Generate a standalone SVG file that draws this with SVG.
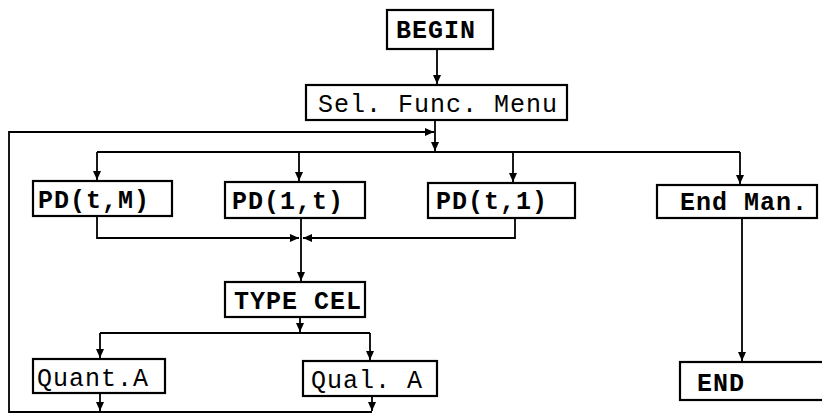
<svg xmlns="http://www.w3.org/2000/svg" width="822" height="414" viewBox="0 0 822 414">
<defs>
<marker id="ah" markerWidth="10" markerHeight="10" refX="9" refY="5" orient="auto" markerUnits="userSpaceOnUse">
<path d="M0,1 L9,5 L0,9 Z" fill="#000"/>
</marker>
<style>
.box{fill:#fff;stroke:#000;stroke-width:2.2}
.ln{fill:none;stroke:#000;stroke-width:1.8}
.t{font-family:"Liberation Mono","DejaVu Sans Mono",monospace;font-size:25px;fill:#000;letter-spacing:1px}
.b{font-weight:bold}
</style>
</defs>
<rect width="822" height="414" fill="#fff"/>
<g id="connectors">
<path class="ln" d="M437,49 V84" marker-end="url(#ah)"/>
<path class="ln" d="M435,120 V151" marker-end="url(#ah)"/>
<path class="ln" d="M97,152 H740"/>
<path class="ln" d="M97,152 V180" marker-end="url(#ah)"/>
<path class="ln" d="M299,152 V181" marker-end="url(#ah)"/>
<path class="ln" d="M513,152 V182" marker-end="url(#ah)"/>
<path class="ln" d="M740,152 V184" marker-end="url(#ah)"/>
<path class="ln" d="M97,216 V238 H299" marker-end="url(#ah)"/>
<path class="ln" d="M515,218 V238 H303" marker-end="url(#ah)"/>
<path class="ln" d="M301,218 V281" marker-end="url(#ah)"/>
<path class="ln" d="M300,317 V332" marker-end="url(#ah)"/>
<path class="ln" d="M100,333 H370"/>
<path class="ln" d="M100,333 V358" marker-end="url(#ah)"/>
<path class="ln" d="M370,333 V360" marker-end="url(#ah)"/>
<path class="ln" d="M100,393 V411" marker-end="url(#ah)"/>
<path class="ln" d="M372,396 V411" marker-end="url(#ah)"/>
<path class="ln" d="M372,412 H9 V132 H434" marker-end="url(#ah)"/>
<path class="ln" d="M742,218 V361" marker-end="url(#ah)"/>
</g>
<g id="begin">
<rect class="box" x="387" y="10" width="106" height="39"/>
<text class="t b" x="396" y="38">BEGIN</text>
</g>
<g id="sel-func-menu">
<rect class="box" x="306" y="85" width="261" height="35"/>
<text class="t" x="318" y="112">Sel. Func. Menu</text>
</g>
<g id="pd-t-m">
<rect class="box" x="33" y="181" width="139" height="35"/>
<text class="t b" x="38" y="208">PD(t,M)</text>
</g>
<g id="pd-1-t">
<rect class="box" x="225" y="182" width="140" height="36"/>
<text class="t b" x="232" y="209">PD(1,t)</text>
</g>
<g id="pd-t-1">
<rect class="box" x="428" y="183" width="147" height="35"/>
<text class="t b" x="436" y="209">PD(t,1)</text>
</g>
<g id="end-man">
<rect class="box" x="657" y="185" width="160" height="33"/>
<text class="t b" x="680" y="210">End Man.</text>
</g>
<g id="type-cel">
<rect class="box" x="225" y="282" width="140" height="35"/>
<text class="t b" x="234" y="309">TYPE CEL</text>
</g>
<g id="quant-a">
<rect class="box" x="33" y="359" width="132" height="34"/>
<text class="t" x="37" y="386">Quant.A</text>
</g>
<g id="qual-a">
<rect class="box" x="303" y="361" width="134" height="35"/>
<text class="t" x="311" y="388">Qual. A</text>
</g>
<g id="end">
<rect class="box" x="680" y="362" width="150" height="38"/>
<text class="t b" x="697" y="391">END</text>
</g>
</svg>
